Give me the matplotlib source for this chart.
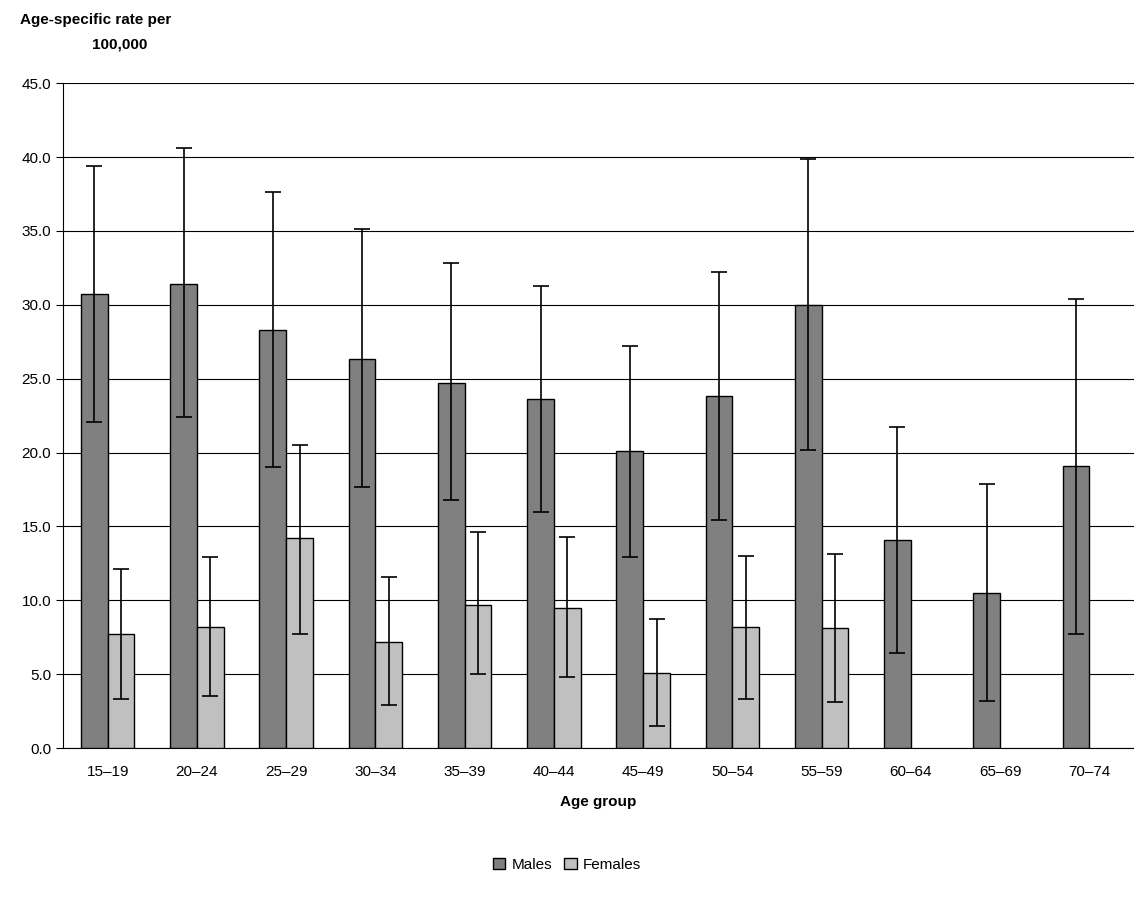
import numpy as np
import matplotlib.pyplot as plt

plt.rcParams['font.family'] = ['Liberation Sans', 'DejaVu Sans']

groups = ['15–19', '20–24', '25–29', '30–34', '35–39', '40–44', '45–49',
          '50–54', '55–59', '60–64', '65–69', '70–74']
males = [30.7, 31.4, 28.3, 26.3, 24.7, 23.6, 20.1, 23.8, 30.0, 14.1, 10.5, 19.1]
males_lo = [22.1, 22.4, 19.0, 17.7, 16.8, 16.0, 12.9, 15.4, 20.2, 6.4, 3.2, 7.7]
males_hi = [39.4, 40.6, 37.6, 35.1, 32.8, 31.3, 27.2, 32.2, 39.9, 21.7, 17.9, 30.4]
females = [7.7, 8.2, 14.2, 7.2, 9.7, 9.5, 5.1, 8.2, 8.1]
females_lo = [3.3, 3.5, 7.7, 2.9, 5.0, 4.8, 1.5, 3.3, 3.1]
females_hi = [12.1, 12.9, 20.5, 11.6, 14.6, 14.3, 8.7, 13.0, 13.1]

fig = plt.figure(figsize=(11.34, 8.98), dpi=100)
ax = fig.add_axes([0.0556, 0.167, 0.9444, 0.7404])

x = np.arange(len(groups))
w = 0.3
xm = x - w / 2
xf = x[:len(females)] + w / 2
m = np.array(males)
f = np.array(females)

ax.bar(xm, m, w, color='#808080', edgecolor='black', linewidth=1, label='Males', zorder=3)
ax.bar(xf, f, w, color='#c0c0c0', edgecolor='black', linewidth=1, label='Females', zorder=3)
ax.errorbar(xm, m, yerr=[m - np.array(males_lo), np.array(males_hi) - m], fmt='none',
            ecolor='black', elinewidth=1.2, capsize=6, capthick=1.2, zorder=4)
ax.errorbar(xf, f, yerr=[f - np.array(females_lo), np.array(females_hi) - f], fmt='none',
            ecolor='black', elinewidth=1.2, capsize=6, capthick=1.2, zorder=4)

ax.set_xlim(-0.5, len(groups) - 0.5)
ax.set_ylim(0, 45)
ax.set_yticks(np.arange(0, 46, 5))
ax.set_yticklabels([f'{v:.1f}' for v in np.arange(0, 46, 5)], fontsize=11)
ax.set_xticks(x)
ax.set_xticklabels(groups, fontsize=11)
ax.tick_params(axis='x', length=0, pad=12)
ax.tick_params(axis='y', length=5, direction='out')
ax.grid(axis='y', color='black', linewidth=0.8, zorder=0)
for s in ['top', 'right']:
    ax.spines[s].set_visible(False)

ax.set_xlabel('Age group', fontsize=11, fontweight='bold', labelpad=12)
fig.text(0.0176, 0.978, 'Age-specific rate per', fontsize=11, fontweight='bold', va='center')
fig.text(0.081, 0.95, '100,000', fontsize=11, fontweight='bold', va='center')

fig.legend(loc='center', bbox_to_anchor=(0.5, 0.037), ncol=2, frameon=False,
           fontsize=11, handlelength=0.8, handleheight=0.8, columnspacing=0.8,
           handletextpad=0.4)

fig.savefig('out.png', dpi=100)
